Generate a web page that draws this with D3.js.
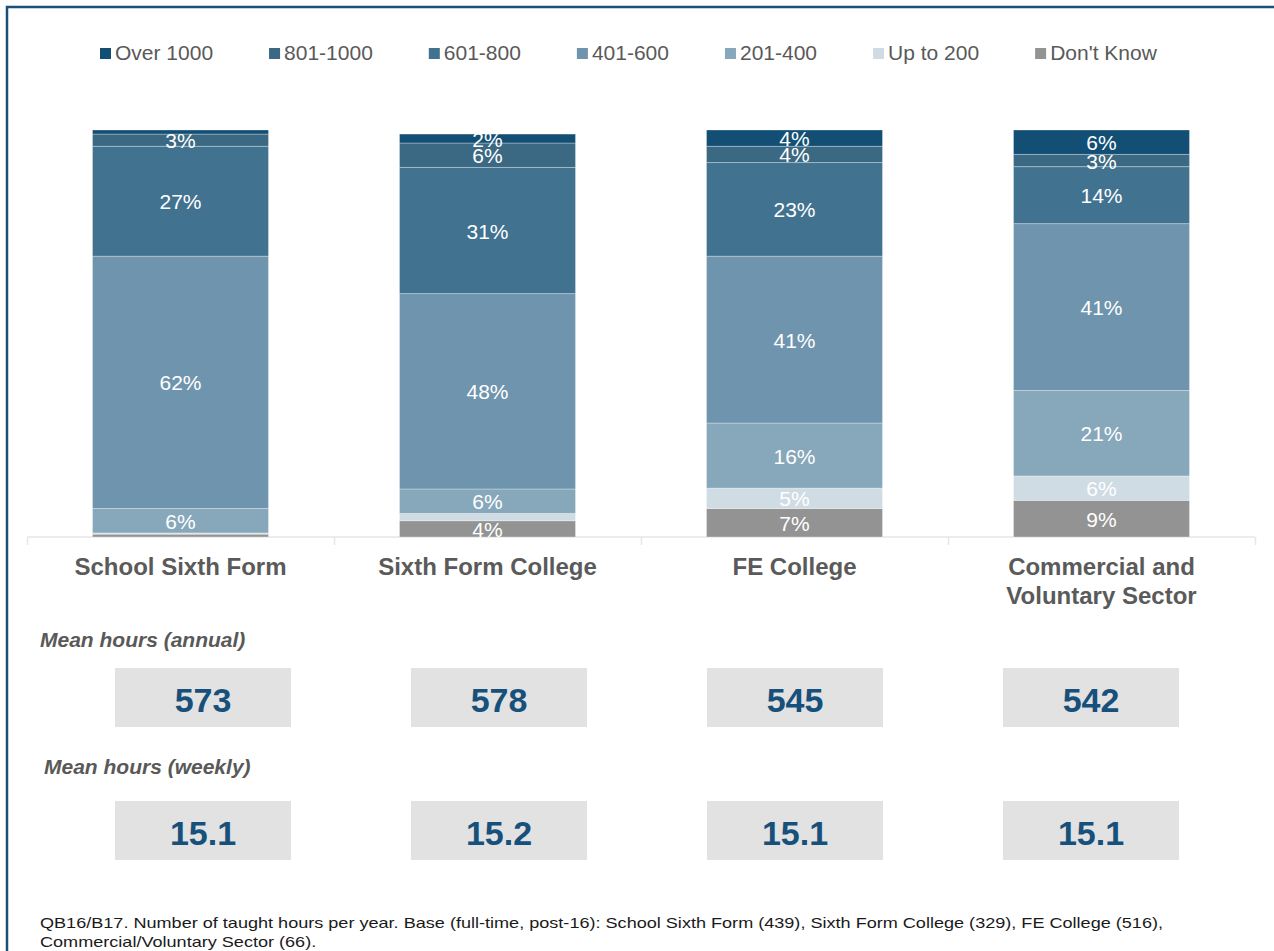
<!DOCTYPE html>
<html><head><meta charset="utf-8">
<script src="https://cdn.jsdelivr.net/npm/d3@7"></script>
<style>html,body{margin:0;padding:0;background:#fff;}svg{display:block;font-family:"Liberation Sans",Arial,sans-serif;}</style>
</head><body>
<script>
const categories = ["School Sixth Form", "Sixth Form College", "FE College", "Commercial and Voluntary Sector"];
const categoryLines = [["School Sixth Form"], ["Sixth Form College"], ["FE College"], ["Commercial and", "Voluntary Sector"]];
const seriesNames = ["Over 1000", "801-1000", "601-800", "401-600", "201-400", "Up to 200", "Don't Know"];
const seriesColors = ["#134f75", "#3b6882", "#41728f", "#6f94ad", "#87a7bb", "#cfdce4", "#939393"];
// values per category (stack order bottom→top: Don't Know ... Over 1000)
const over1000 = [1, 2.2, 4, 6];
const s801_1000 = [3, 6, 4, 3];
const s601_800 = [27, 31, 23, 14];
const s401_600 = [62, 48, 41, 41];
const s201_400 = [6, 6, 16, 21];
const upTo200 = [0.3, 1.8, 5, 6];
const dontKnow = [0.7, 4, 7, 9];
const meanAnnual = ["573", "578", "545", "542"];
const meanWeekly = ["15.1", "15.2", "15.1", "15.1"];
const footnote = ["QB16/B17. Number of taught hours per year. Base (full-time, post-16): School Sixth Form (439), Sixth Form College (329), FE College (516),",
  "Commercial/Voluntary Sector (66)."];

const seriesValues = [over1000, s801_1000, s601_800, s401_600, s201_400, upTo200, dontKnow];

const W = 1274, H = 951;
const svg = d3.select("body").append("svg").attr("width", W).attr("height", H);
svg.append("rect").attr("width", W).attr("height", H).attr("fill", "#fff");

// frame
svg.append("path").attr("d", `M7,${H} V7 H${W}`).attr("fill", "none").attr("stroke", "#1b5079").attr("stroke-width", 2.5);

// legend
const leg = svg.append("g");
let lx = 100;
seriesNames.forEach((n, i) => {
  leg.append("rect").attr("x", lx).attr("y", 48).attr("width", 11).attr("height", 11).attr("fill", seriesColors[i]);
  const t = leg.append("text").attr("x", lx + 15).attr("y", 60).attr("font-size", 21).attr("fill", "#595959").text(n);
  lx += 15 + t.node().getComputedTextLength() + 56;
});

// scales
const x = d3.scaleBand().domain(categories).range([27, 1255]).paddingInner(131 / 307).paddingOuter(131 / 307 / 2);
const y = d3.scaleLinear().domain([0, 100]).range([537, 130]);

// stack data
const rows = categories.map((c, ci) => {
  const r = { cat: c };
  seriesNames.forEach((s, si) => r[s] = seriesValues[si][ci]);
  return r;
});
const stackKeys = seriesNames.slice().reverse();
const stacked = d3.stack().keys(stackKeys)(rows);
const colorOf = d3.scaleOrdinal().domain(seriesNames).range(seriesColors);

// axis baseline
const axisG = svg.append("g").attr("transform", "translate(0,537)");
axisG.call(d3.axisBottom(d3.scaleLinear().domain([0, 4]).range([27, 1255])).tickValues([0, 1, 2, 3, 4]).tickSize(8).tickFormat(""));
axisG.selectAll("path,line").attr("stroke", "#e6e6e6").attr("stroke-width", 1.5);
axisG.select(".domain").attr("d", "M27,0H1255");

const layers = svg.append("g").selectAll("g").data(stacked).join("g").attr("fill", d => colorOf(d.key));
layers.selectAll("rect").data(d => d).join("rect")
  .attr("x", d => x(d.data.cat)).attr("width", x.bandwidth())
  .attr("y", d => y(d[1])).attr("height", d => y(d[0]) - y(d[1]))
  .attr("stroke", "rgba(255,255,255,0.3)").attr("stroke-width", 1);

const lbl = svg.append("g");
stacked.forEach(layer => {
  layer.forEach(d => {
    const v = d[1] - d[0];
    if (v < 2) return;
    lbl.append("text").attr("x", x(d.data.cat) + x.bandwidth() / 2).attr("y", (y(d[0]) + y(d[1])) / 2 + 8)
      .attr("text-anchor", "middle").attr("font-size", 21).attr("fill", "#fff").text(Math.round(v) + "%");
  });
});

// category labels
categories.forEach((c, i) => {
  categoryLines[i].forEach((line, li) => {
    svg.append("text").attr("x", x(c) + x.bandwidth() / 2).attr("y", 575 + li * 29)
      .attr("text-anchor", "middle").attr("font-size", 24).attr("font-weight", "bold").attr("fill", "#5a5a5a").text(line);
  });
});

// mean boxes
const bx = d3.scaleBand().domain(categories).range([115, 1179]).paddingInner(120 / 296).paddingOuter(0);
function boxRow(title, tx, ty, boxY, vals) {
  svg.append("text").attr("x", tx).attr("y", ty).attr("font-size", 21).attr("font-weight", "bold").attr("font-style", "italic").attr("fill", "#595959").text(title);
  const g = svg.append("g");
  g.selectAll("rect").data(categories).join("rect").attr("x", d => bx(d)).attr("y", boxY).attr("width", bx.bandwidth()).attr("height", 59).attr("fill", "#e2e2e2");
  g.selectAll("text").data(categories).join("text").attr("x", d => bx(d) + bx.bandwidth() / 2).attr("y", boxY + 44)
    .attr("text-anchor", "middle").attr("font-size", 34).attr("font-weight", "bold").attr("fill", "#17507a").text((d, i) => vals[i]);
}
boxRow("Mean hours (annual)", 40, 647, 668, meanAnnual);
boxRow("Mean hours (weekly)", 44, 774, 801, meanWeekly);

// footnote
const f1 = svg.append("text").attr("x", 40).attr("y", 928).attr("font-size", 14.5).attr("fill", "#1a1a1a").text(footnote[0]);
const nat1 = f1.node().getComputedTextLength();
const ratio = 1123 / nat1;
f1.attr("textLength", 1123).attr("lengthAdjust", "spacingAndGlyphs");
const f2 = svg.append("text").attr("x", 40).attr("y", 947).attr("font-size", 14.5).attr("fill", "#1a1a1a").text(footnote[1]);
const nat2 = f2.node().getComputedTextLength();
f2.attr("textLength", nat2 * ratio).attr("lengthAdjust", "spacingAndGlyphs");
</script>
</body></html>
